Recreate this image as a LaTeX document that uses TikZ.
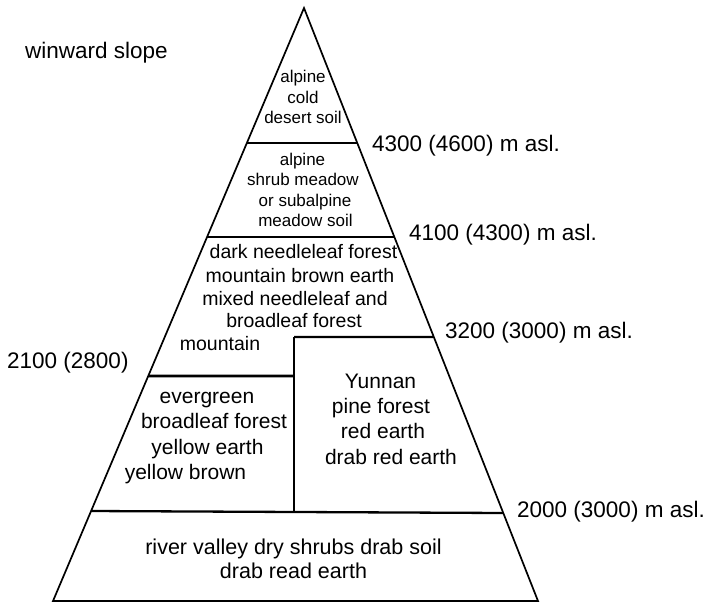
\documentclass[tikz,border=0pt]{standalone}
\usepackage{fontspec}
\setmainfont{Liberation Sans}
\usetikzlibrary{calc}
\begin{document}
\begin{tikzpicture}[x=1pt,y=-1pt,
  edge/.style={line width=1.7pt, line join=miter},
  divider/.style={line width=2.6pt},
  thindiv/.style={line width=1.7pt},
  lbl/.style={anchor=base west, inner sep=0pt, font=\fontsize{22.5}{27}\selectfont},
  sa/.style={anchor=base, inner sep=0pt, font=\fontsize{17}{20}\selectfont},
  sb/.style={anchor=base, inner sep=0pt, font=\fontsize{19.5}{23}\selectfont},
  sc/.style={anchor=base, inner sep=0pt, font=\fontsize{21}{25}\selectfont},
  sd/.style={anchor=base, inner sep=0pt, font=\fontsize{21.5}{25}\selectfont}]
\useasboundingbox (0,0) rectangle (710,603);
% pyramid
\coordinate (A) at (304,8);
\coordinate (BL) at (53,601);
\coordinate (BR) at (538,601);
\coordinate (l1) at ($(A)!0.22766!(BL)$);
\coordinate (r1) at ($(A)!0.22766!(BR)$);
\coordinate (l2) at ($(A)!0.38617!(BL)$);
\coordinate (r2) at ($(A)!0.38617!(BR)$);
\coordinate (r3) at ($(A)!0.55481!(BR)$);
\coordinate (l4) at ($(A)!0.62057!(BL)$);
\coordinate (l5) at ($(A)!0.84823!(BL)$);
\coordinate (r5) at ($(A)!0.85160!(BR)$);
\coordinate (v1) at (294,337);
\coordinate (v3) at (294,376);
\coordinate (v2) at (294,512);
\draw[edge] (A) -- (BR) -- (BL) -- cycle;
\draw[divider] (l1) -- (r1);
\draw[divider] (l2) -- (r2);
\draw[line width=2.2pt] (v1) -- (r3);
\draw[divider] (l4) -- (v3);
\draw[line width=2.3pt] (l5) -- (r5);
\draw[thindiv] (v1) -- (v2);
% labels
\node[lbl] (wind) at (25,58) {winward slope};
\node[lbl] (lab4300) at (372,151) {4300 (4600) m asl.};
\node[lbl] (lab4100) at (409,240) {4100 (4300) m asl.};
\node[lbl] (lab3200) at (445,338) {3200 (3000) m asl.};
\node[lbl] (lab2000) at (517,517) {2000 (3000) m asl.};
\node[lbl] (lab2100) at (7,368) {2100 (2800)};
% top box
\node[sa] (a1) at (303,82) {alpine};
\node[sa] (a2) at (303,103) {cold};
\node[sa] (a3) at (303,123) {desert soil};
% alpine shrub box
\node[sa] (b1) at (302.5,165) {alpine};
\node[sa] (b2) at (303,185) {shrub meadow};
\node[sa] (b3) at (305,206) {or subalpine};
\node[sa] (b4) at (305.5,226) {meadow soil};
% dark needleleaf box
\node[sb] (c1) at (303.5,258) {dark needleleaf forest};
\node[sb] (c2) at (300,282) {mountain brown earth};
\node[sb] (c3) at (295,305) {mixed needleleaf and};
\node[sb] (c4) at (294,327) {broadleaf forest};
\node[sb] (c5) at (220,350) {mountain};
% evergreen box
\node[sc] (d1) at (207,403) {evergreen};
\node[sc] (d2) at (214,428) {broadleaf forest};
\node[sc] (d3) at (207.5,454) {yellow earth};
\node[sc] (d4) at (185.5,479) {yellow brown};
% Yunnan box
\node[sc] (e1) at (380.5,388) {Yunnan};
\node[sc] (e2) at (381,413) {pine forest};
\node[sc] (e3) at (383,438) {red earth};
\node[sc] (e4) at (391,464) {drab red earth};
% river valley box
\node[sd] (f1) at (293.5,554) {river valley dry shrubs drab soil};
\node[sd] (f2) at (293.5,578) {drab read earth};
\end{tikzpicture}
\end{document}
